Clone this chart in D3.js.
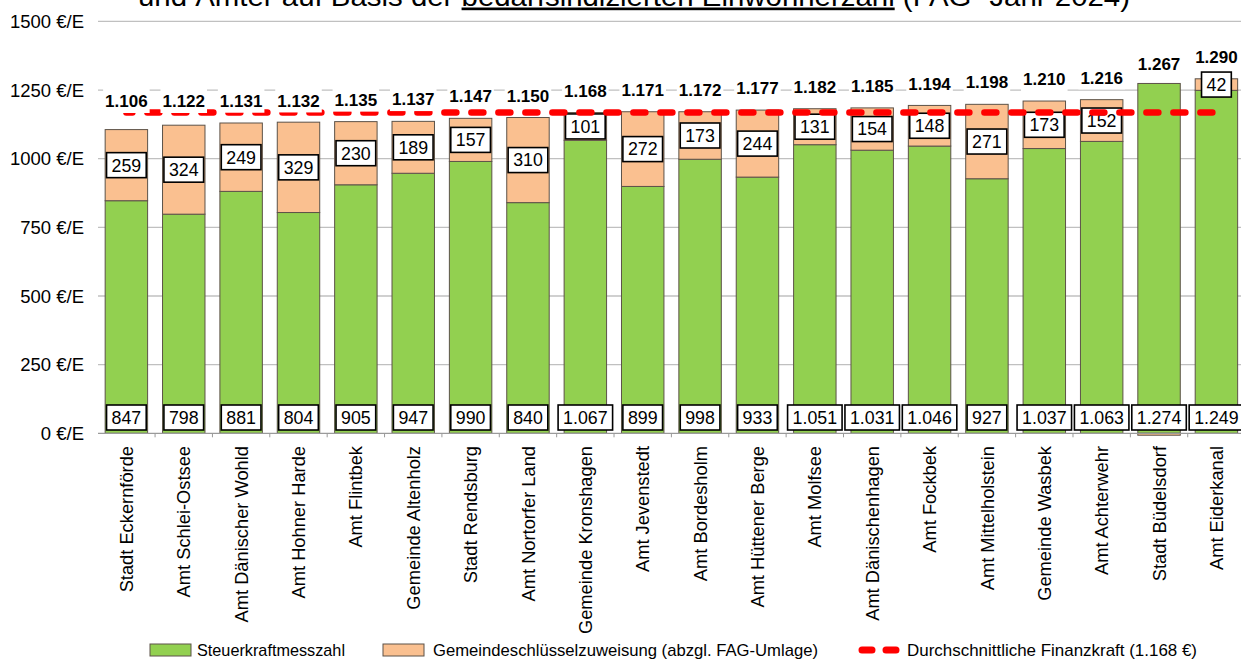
<!DOCTYPE html>
<html>
<head>
<meta charset="utf-8">
<script src="https://cdn.jsdelivr.net/npm/d3@7"></script>
<style>
  html, body { margin: 0; padding: 0; background: #fff; }
  svg { display: block; font-family: Arial, "Liberation Sans", sans-serif; }
</style>
</head>
<body>
<svg id="chart" width="1241" height="661"></svg>
<script>
// Finanzkraft je Einwohner (€/E), FAG-Jahr 2024
const categories = [
  "Stadt Eckernförde", "Amt Schlei-Ostsee", "Amt Dänischer Wohld", "Amt Hohner Harde",
  "Amt Flintbek", "Gemeinde Altenholz", "Stadt Rendsburg", "Amt Nortorfer Land",
  "Gemeinde Kronshagen", "Amt Jevenstedt", "Amt Bordesholm", "Amt Hüttener Berge",
  "Amt Molfsee", "Amt Dänischenhagen", "Amt Fockbek", "Amt Mittelholstein",
  "Gemeinde Wasbek", "Amt Achterwehr", "Stadt Büdelsdorf", "Amt Eiderkanal"
];
const steuerkraft = [847, 798, 881, 804, 905, 947, 990, 840, 1067, 899,
                     998, 933, 1051, 1031, 1046, 927, 1037, 1063, 1274, 1249];
const schluessel  = [259, 324, 249, 329, 230, 189, 157, 310, 101, 272,
                     173, 244, 131, 154, 148, 271, 173, 152, -7, 42];
const totals      = [1106, 1122, 1131, 1132, 1135, 1137, 1147, 1150, 1168, 1171,
                     1172, 1177, 1182, 1185, 1194, 1198, 1210, 1216, 1267, 1290];
const average = 1168;
const yTicks = [0, 250, 500, 750, 1000, 1250, 1500];
const seriesNames = ["Steuerkraftmesszahl", "Gemeindeschlüsselzuweisung (abzgl. FAG-Umlage)"];
const averageName = "Durchschnittliche Finanzkraft (1.168 €)";
const titleParts = ["und Ämter auf Basis der ", "bedarfsindizierten Einwohnerzahl", " (FAG- Jahr 2024)"];

const colors = { steuer: "#92D050", schluessel: "#FAC090", avg: "#FF0000", edge: "#5c5248", grid: "#C0C0C0" };

const de = d3.formatLocale({ decimal: ",", thousands: ".", grouping: [3], currency: ["", " €"] });
const fmt = de.format(",d");

const svg = d3.select("#chart");

const rows = categories.map((c, i) => ({ cat: c, steuer: steuerkraft[i], schluessel: schluessel[i], total: totals[i] }));
const stacked = d3.stack().keys(["steuer", "schluessel"]).offset(d3.stackOffsetDiverging)(rows);

const x = d3.scaleBand().domain(categories).range([97.7, 1245.1]).paddingInner(0.26).paddingOuter(0.13);
const y = d3.scaleLinear().domain([0, 1500]).range([433.3, 21.4]);

// Gridlines
svg.append("g").selectAll("line").data(yTicks.filter(v => v > 0)).join("line")
  .attr("x1", 98).attr("x2", 1241)
  .attr("y1", d => y(d)).attr("y2", d => y(d))
  .attr("stroke", colors.grid).attr("stroke-width", 1.3);

// Stacked bars
const fills = { steuer: colors.steuer, schluessel: colors.schluessel };
svg.append("g").selectAll("g").data(stacked).join("g")
  .attr("fill", d => fills[d.key])
  .selectAll("rect").data(d => d).join("rect")
  .attr("x", d => x(d.data.cat))
  .attr("width", x.bandwidth())
  .attr("y", d => y(Math.max(d[0], d[1])))
  .attr("height", d => Math.abs(y(d[0]) - y(d[1])))
  .attr("stroke", colors.edge).attr("stroke-width", 1);

// Category axis
const xAxis = svg.append("g");
xAxis.append("line").attr("x1", 98).attr("x2", 1241).attr("y1", y(0)).attr("y2", y(0))
  .attr("stroke", "#9a9a9a").attr("stroke-width", 1.3);
const step = x.step();
xAxis.selectAll(".tick").data(categories.slice(1)).join("line")
  .attr("class", "tick")
  .attr("x1", d => x(d) - step * x.paddingInner() / 2)
  .attr("x2", d => x(d) - step * x.paddingInner() / 2)
  .attr("y1", y(0)).attr("y2", y(0) + 4)
  .attr("stroke", "#9a9a9a").attr("stroke-width", 1);

xAxis.selectAll("text.cat").data(categories).join("text")
  .attr("class", "cat")
  .attr("transform", d => `translate(${x(d) + x.bandwidth() / 2},446) rotate(-90)`)
  .attr("text-anchor", "end")
  .attr("dy", "0.36em")
  .attr("font-size", 18.3)
  .attr("fill", "#000")
  .text(d => d);

// Value axis labels
svg.append("g").selectAll("text").data(yTicks).join("text")
  .attr("x", 84).attr("y", d => y(d)).attr("dy", "0.36em")
  .attr("text-anchor", "end").attr("font-size", 18.5).attr("fill", "#000")
  .text(d => `${d} €/E`);

// Boxed value label helper
function boxedLabel(g, cx, cy, txt, opts) {
  const t = g.append("text").attr("x", cx).attr("y", cy).attr("dy", "0.36em")
    .attr("text-anchor", "middle").attr("font-size", opts.size)
    .attr("font-weight", opts.weight || "normal").attr("fill", "#000").text(txt);
  const w = t.node().getComputedTextLength();
  g.insert("rect", () => t.node())
    .attr("x", cx - w / 2 - opts.padX).attr("y", cy - opts.h / 2)
    .attr("width", w + opts.padX * 2).attr("height", opts.h)
    .attr("fill", "#fff")
    .attr("stroke", opts.stroke || "none").attr("stroke-width", opts.strokeWidth || 0);
}

// Segment labels
const segLabels = svg.append("g");
rows.forEach(r => {
  const cx = x(r.cat) + x.bandwidth() / 2;
  boxedLabel(segLabels, cx, 417.5, fmt(r.steuer), { size: 17.8, padX: 5, h: 25, stroke: "#000", strokeWidth: 1.6 });
  if (r.schluessel > 0) {
    const mid = (y(r.steuer) + y(r.steuer + r.schluessel)) / 2;
    boxedLabel(segLabels, cx, mid, fmt(r.schluessel), { size: 17.8, padX: 5, h: 25, stroke: "#000", strokeWidth: 1.6 });
  }
});

// Average line
const avgLine = d3.line().x(d => x(d) + x.bandwidth() / 2).y(() => y(average));
svg.append("path").datum([categories[0], categories[categories.length - 1]])
  .attr("d", avgLine)
  .attr("fill", "none").attr("stroke", colors.avg).attr("stroke-width", 6.5)
  .attr("stroke-linecap", "round").attr("stroke-dasharray", "12,15")
  .attr("stroke-dashoffset", 6);

// Total labels
const totLabels = svg.append("g");
rows.forEach(r => {
  const cx = x(r.cat) + x.bandwidth() / 2;
  const cy = Math.min(y(r.total) - 22, 101);
  boxedLabel(totLabels, cx, cy, fmt(r.total), { size: 17, weight: "bold", padX: 2, h: 24 });
});

// Legend
const legend = svg.append("g").attr("font-family", "'Liberation Sans Narrow', 'Arial Narrow', Arial, sans-serif").attr("font-size", 17);
const legendItems = [
  { name: seriesNames[0], color: colors.steuer, sx: 150, tx: 197, tw: 148 },
  { name: seriesNames[1], color: colors.schluessel, sx: 383, tx: 433, tw: 385 }
];
legendItems.forEach(it => {
  legend.append("rect").attr("x", it.sx).attr("y", 644).attr("width", 41).attr("height", 12)
    .attr("fill", it.color).attr("stroke", colors.edge).attr("stroke-width", 1);
  legend.append("text").attr("x", it.tx).attr("y", 650).attr("dy", "0.36em")
    .attr("textLength", it.tw).attr("lengthAdjust", "spacingAndGlyphs").text(it.name);
});
legend.append("line").attr("x1", 862).attr("x2", 900).attr("y1", 650).attr("y2", 650)
  .attr("stroke", colors.avg).attr("stroke-width", 7).attr("stroke-linecap", "round")
  .attr("stroke-dasharray", "10,14");
legend.append("text").attr("x", 907).attr("y", 650).attr("dy", "0.36em")
  .attr("textLength", 290).attr("lengthAdjust", "spacingAndGlyphs").text(averageName);

// Title (its upper part runs past the top edge)
const title = svg.append("text").attr("x", 138).attr("y", 5.5).attr("font-size", 27).attr("fill", "#000")
  .attr("textLength", 992).attr("lengthAdjust", "spacingAndGlyphs");
title.append("tspan").text(titleParts[0]);
title.append("tspan").attr("text-decoration", "underline").text(titleParts[1]);
title.append("tspan").text(titleParts[2]);
</script>
</body>
</html>
